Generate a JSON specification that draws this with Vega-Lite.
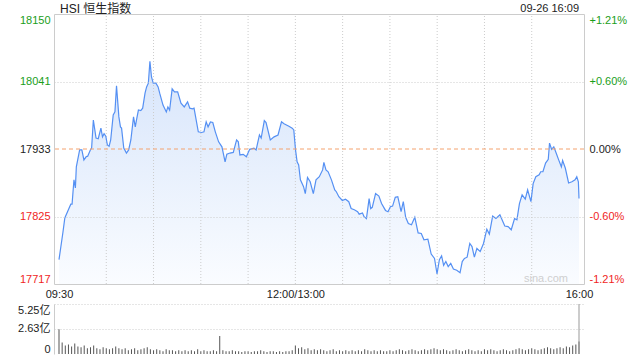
{
  "$schema": "https://vega.github.io/schema/vega-lite/v6.json",
  "width": 530,
  "height": 340,
  "autosize": {"type": "none"},
  "padding": {"left": 54, "top": 14, "right": 56, "bottom": 6},
  "background": "white",
  "config": {
    "font": "Liberation Sans, Noto Sans CJK SC",
    "view": {"stroke": null}
  },
  "datasets": {
    "price": [
      {"t":0,"v":17756},{"t":2.5,"v":17800},{"t":3.7,"v":17823},{"t":5.4,"v":17833},{"t":7.5,"v":17845},{"t":8.3,"v":17845},{"t":8.9,"v":17865},{"t":9.5,"v":17884},{"t":10.4,"v":17871},{"t":11.0,"v":17905},{"t":13.1,"v":17932},{"t":14.5,"v":17932},{"t":15.8,"v":17916},{"t":17.2,"v":17921},{"t":18.2,"v":17922},{"t":19.9,"v":17932},{"t":20.7,"v":17935},{"t":21.8,"v":17980},{"t":23.5,"v":17951},{"t":24.9,"v":17950},{"t":26.6,"v":17967},{"t":27.6,"v":17953},{"t":28.6,"v":17958},{"t":29.7,"v":17954},{"t":30.7,"v":17940},{"t":31.8,"v":17938},{"t":32.8,"v":17948},{"t":34.4,"v":17988},{"t":35.5,"v":17993},{"t":36.5,"v":18035},{"t":38.0,"v":17985},{"t":39.0,"v":17969},{"t":39.7,"v":17967},{"t":41.1,"v":17935},{"t":42.8,"v":17927},{"t":44.2,"v":17932},{"t":45.6,"v":17948},{"t":47.3,"v":17985},{"t":48.4,"v":17969},{"t":49.4,"v":17983},{"t":50.4,"v":17996},{"t":51.9,"v":17995},{"t":53.1,"v":17999},{"t":54.6,"v":18023},{"t":55.6,"v":18033},{"t":56.7,"v":18039},{"t":57.7,"v":18074},{"t":58.7,"v":18049},{"t":59.8,"v":18039},{"t":61.5,"v":18039},{"t":62.9,"v":18033},{"t":63.9,"v":18023},{"t":66.0,"v":18004},{"t":68.1,"v":17993},{"t":69.1,"v":18001},{"t":70.2,"v":17996},{"t":71.8,"v":18030},{"t":73.3,"v":18025},{"t":75.3,"v":18025},{"t":77.4,"v":18007},{"t":79.5,"v":18001},{"t":81.6,"v":18009},{"t":83.0,"v":17999},{"t":84.7,"v":17998},{"t":85.7,"v":17999},{"t":86.7,"v":17985},{"t":88.4,"v":17961},{"t":90.5,"v":17960},{"t":92.0,"v":17961},{"t":93.4,"v":17977},{"t":94.6,"v":17969},{"t":96.1,"v":17977},{"t":97.6,"v":17976},{"t":99.2,"v":17961},{"t":101.3,"v":17945},{"t":103.4,"v":17937},{"t":105.4,"v":17913},{"t":106.5,"v":17925},{"t":108.5,"v":17927},{"t":110.6,"v":17928},{"t":112.7,"v":17948},{"t":113.8,"v":17945},{"t":114.8,"v":17924},{"t":116.9,"v":17925},{"t":118.9,"v":17921},{"t":121.0,"v":17933},{"t":123.7,"v":17935},{"t":125.1,"v":17932},{"t":127.2,"v":17956},{"t":128.3,"v":17951},{"t":130.3,"v":17979},{"t":131.4,"v":17976},{"t":134.1,"v":17948},{"t":136.5,"v":17953},{"t":139.0,"v":17956},{"t":141.2,"v":17977},{"t":142.8,"v":17974},{"t":145.9,"v":17970},{"t":148.0,"v":17967},{"t":149.0,"v":17964},{"t":150.1,"v":17932},{"t":151.1,"v":17913},{"t":152.1,"v":17908},{"t":153.2,"v":17884},{"t":155.2,"v":17873},{"t":156.3,"v":17862},{"t":157.7,"v":17888},{"t":159.4,"v":17881},{"t":161.4,"v":17862},{"t":163.1,"v":17884},{"t":165.2,"v":17889},{"t":167.3,"v":17900},{"t":168.1,"v":17912},{"t":169.4,"v":17900},{"t":170.8,"v":17897},{"t":172.9,"v":17884},{"t":175.0,"v":17868},{"t":176.0,"v":17865},{"t":177.6,"v":17857},{"t":179.8,"v":17851},{"t":181.8,"v":17853},{"t":183.9,"v":17849},{"t":185.4,"v":17838},{"t":187.4,"v":17836},{"t":189.5,"v":17833},{"t":190.5,"v":17829},{"t":192.6,"v":17831},{"t":193.6,"v":17825},{"t":195.1,"v":17822},{"t":196.8,"v":17854},{"t":197.8,"v":17838},{"t":198.8,"v":17840},{"t":200.9,"v":17862},{"t":203.0,"v":17858},{"t":204.7,"v":17846},{"t":207.2,"v":17835},{"t":208.8,"v":17833},{"t":210.3,"v":17841},{"t":211.7,"v":17842},{"t":213.4,"v":17856},{"t":215.0,"v":17857},{"t":217.1,"v":17833},{"t":218.5,"v":17849},{"t":220.0,"v":17824},{"t":221.7,"v":17814},{"t":223.7,"v":17812},{"t":225.8,"v":17824},{"t":227.9,"v":17799},{"t":229.9,"v":17798},{"t":231.6,"v":17788},{"t":234.1,"v":17789},{"t":236.2,"v":17765},{"t":238.3,"v":17758},{"t":239.9,"v":17733},{"t":241.4,"v":17756},{"t":242.8,"v":17762},{"t":244.1,"v":17747},{"t":245.5,"v":17753},{"t":247.0,"v":17745},{"t":248.6,"v":17750},{"t":250.3,"v":17741},{"t":252.4,"v":17739},{"t":254.5,"v":17735},{"t":255.9,"v":17753},{"t":257.3,"v":17758},{"t":259.0,"v":17760},{"t":260.7,"v":17782},{"t":262.1,"v":17777},{"t":263.6,"v":17760},{"t":265.2,"v":17774},{"t":267.3,"v":17769},{"t":269.4,"v":17782},{"t":271.5,"v":17805},{"t":273.1,"v":17797},{"t":275.2,"v":17826},{"t":277.3,"v":17822},{"t":279.8,"v":17828},{"t":282.9,"v":17810},{"t":285.0,"v":17809},{"t":287.0,"v":17804},{"t":289.1,"v":17822},{"t":290.6,"v":17820},{"t":292.2,"v":17846},{"t":293.9,"v":17860},{"t":295.9,"v":17853},{"t":297.4,"v":17868},{"t":299.5,"v":17849},{"t":300.9,"v":17878},{"t":302.6,"v":17889},{"t":304.7,"v":17892},{"t":305.7,"v":17897},{"t":307.1,"v":17897},{"t":308.8,"v":17911},{"t":310.5,"v":17917},{"t":311.3,"v":17943},{"t":312.6,"v":17933},{"t":314.0,"v":17937},{"t":315.5,"v":17927},{"t":317.1,"v":17916},{"t":318.8,"v":17905},{"t":319.6,"v":17915},{"t":321.3,"v":17903},{"t":323.4,"v":17879},{"t":325.5,"v":17881},{"t":327.5,"v":17884},{"t":328.6,"v":17889},{"t":329.6,"v":17881},{"t":330,"v":17854}
    ],
    "volume": [
      {"t":0,"vol":2.6},{"t":2,"vol":1.2},{"t":4,"vol":0.9},{"t":6,"vol":1.0},{"t":8,"vol":0.8},{"t":10,"vol":1.1},{"t":12,"vol":0.8},{"t":14,"vol":0.7},{"t":16,"vol":0.9},{"t":18,"vol":0.6},{"t":20,"vol":0.7},{"t":22,"vol":0.9},{"t":24,"vol":0.6},{"t":26,"vol":0.5},{"t":28,"vol":0.7},{"t":30,"vol":0.6},{"t":32,"vol":0.5},{"t":34,"vol":0.6},{"t":36,"vol":0.8},{"t":38,"vol":0.6},{"t":40,"vol":0.5},{"t":42,"vol":0.6},{"t":44,"vol":0.4},{"t":46,"vol":0.5},{"t":48,"vol":0.6},{"t":50,"vol":0.4},{"t":52,"vol":0.5},{"t":54,"vol":0.6},{"t":56,"vol":0.7},{"t":58,"vol":0.5},{"t":60,"vol":0.4},{"t":62,"vol":0.5},{"t":64,"vol":0.4},{"t":66,"vol":0.3},{"t":68,"vol":0.5},{"t":70,"vol":0.4},{"t":72,"vol":0.4},{"t":74,"vol":0.3},{"t":76,"vol":0.4},{"t":78,"vol":0.3},{"t":80,"vol":0.4},{"t":82,"vol":0.3},{"t":84,"vol":0.4},{"t":86,"vol":0.3},{"t":88,"vol":0.5},{"t":90,"vol":0.3},{"t":92,"vol":0.4},{"t":94,"vol":0.3},{"t":96,"vol":0.3},{"t":98,"vol":0.4},{"t":100,"vol":0.3},{"t":102,"vol":1.9},{"t":104,"vol":0.4},{"t":106,"vol":0.3},{"t":108,"vol":0.3},{"t":110,"vol":0.4},{"t":112,"vol":0.3},{"t":114,"vol":0.3},{"t":116,"vol":0.2},{"t":118,"vol":0.3},{"t":120,"vol":0.3},{"t":122,"vol":0.2},{"t":124,"vol":0.3},{"t":126,"vol":0.3},{"t":128,"vol":0.4},{"t":130,"vol":0.3},{"t":132,"vol":0.2},{"t":134,"vol":0.3},{"t":136,"vol":0.3},{"t":138,"vol":0.2},{"t":140,"vol":0.3},{"t":142,"vol":0.2},{"t":144,"vol":0.3},{"t":146,"vol":0.3},{"t":148,"vol":0.4},{"t":150,"vol":0.9},{"t":152,"vol":0.6},{"t":154,"vol":0.7},{"t":156,"vol":0.5},{"t":158,"vol":0.6},{"t":160,"vol":0.4},{"t":162,"vol":0.5},{"t":164,"vol":0.4},{"t":166,"vol":0.5},{"t":168,"vol":0.4},{"t":170,"vol":0.3},{"t":172,"vol":0.4},{"t":174,"vol":0.5},{"t":176,"vol":0.3},{"t":178,"vol":0.4},{"t":180,"vol":0.3},{"t":182,"vol":0.4},{"t":184,"vol":0.3},{"t":186,"vol":0.4},{"t":188,"vol":0.3},{"t":190,"vol":0.4},{"t":192,"vol":0.3},{"t":194,"vol":0.5},{"t":196,"vol":0.4},{"t":198,"vol":0.3},{"t":200,"vol":0.4},{"t":202,"vol":0.3},{"t":204,"vol":0.4},{"t":206,"vol":0.3},{"t":208,"vol":0.3},{"t":210,"vol":0.4},{"t":212,"vol":0.3},{"t":214,"vol":0.4},{"t":216,"vol":0.5},{"t":218,"vol":0.4},{"t":220,"vol":0.3},{"t":222,"vol":0.4},{"t":224,"vol":0.5},{"t":226,"vol":0.4},{"t":228,"vol":0.3},{"t":230,"vol":0.4},{"t":232,"vol":0.5},{"t":234,"vol":0.4},{"t":236,"vol":0.5},{"t":238,"vol":0.6},{"t":240,"vol":0.5},{"t":242,"vol":0.4},{"t":244,"vol":0.5},{"t":246,"vol":0.4},{"t":248,"vol":0.3},{"t":250,"vol":0.4},{"t":252,"vol":0.5},{"t":254,"vol":0.4},{"t":256,"vol":0.3},{"t":258,"vol":0.4},{"t":260,"vol":0.5},{"t":262,"vol":0.4},{"t":264,"vol":0.3},{"t":266,"vol":0.4},{"t":268,"vol":0.3},{"t":270,"vol":0.5},{"t":272,"vol":0.4},{"t":274,"vol":0.5},{"t":276,"vol":0.4},{"t":278,"vol":0.3},{"t":280,"vol":0.4},{"t":282,"vol":0.5},{"t":284,"vol":0.4},{"t":286,"vol":0.3},{"t":288,"vol":0.4},{"t":290,"vol":0.5},{"t":292,"vol":0.6},{"t":294,"vol":0.5},{"t":296,"vol":0.4},{"t":298,"vol":0.5},{"t":300,"vol":0.6},{"t":302,"vol":0.5},{"t":304,"vol":0.4},{"t":306,"vol":0.5},{"t":308,"vol":0.6},{"t":310,"vol":0.7},{"t":312,"vol":0.6},{"t":314,"vol":0.5},{"t":316,"vol":0.6},{"t":318,"vol":0.7},{"t":320,"vol":0.6},{"t":322,"vol":0.8},{"t":324,"vol":0.7},{"t":326,"vol":0.9},{"t":328,"vol":1.0},{"t":330,"vol":1.3}
    ],
    "vgrid": [{"t":30},{"t":60},{"t":90},{"t":120},{"t":150},{"t":180},{"t":210},{"t":240},{"t":270},{"t":300}],
    "heading": [{"t":0,"label":"HSI 恒生指数"}],
    "stamp": [{"t":330,"label":"09-26 16:09"}],
    "watermark": [{"t":330,"label":"sina.com"}],
    "prevclose": [{"pct":0,"close":17933}],
    "vborder": [{"t":330}]
  },
  "layer": [
    {
      "data": {"name": "price"},
      "layer": [
        {
          "mark": {
            "type": "area",
            "color": {"gradient": "linear", "x1": 0, "y1": 0, "x2": 0, "y2": 1,
              "stops": [{"offset": 0, "color": "#d7e5fb"}, {"offset": 1, "color": "#fafcff"}]}
          },
          "encoding": {
            "x": {"field": "t", "type": "quantitative",
              "scale": {"domain": [0, 330], "nice": false, "zero": false},
              "axis": {"orient": "bottom", "offset": -70, "values": [0, 150, 330],
                "labelExpr": "datum.value == 0 ? '09:30' : datum.value == 150 ? '12:00/13:00' : '16:00'",
                "title": null, "domain": false, "ticks": false, "grid": false, "labelFlush": true,
                "labelPadding": 4, "labelFontSize": 11, "labelColor": "#222"}},
            "y": {"field": "v", "type": "quantitative",
              "scale": {"domain": [17717, 18150], "range": [270, 0], "nice": false, "zero": false},
              "axis": {"orient": "left", "values": [17717, 17825, 17933, 18041, 18150], "format": "d",
                "title": null, "ticks": false, "domain": true, "domainColor": "#cccccc",
                "labelPadding": 4, "labelFlush": true, "labelFontSize": 11,
                "grid": true, "gridColor": "#cccccc",
                "gridDash": {"condition": {"test": "datum.value == 18150 || datum.value == 17717", "value": []}, "value": [1, 2]},
                "gridOpacity": {"condition": {"test": "datum.value == 17933", "value": 0}, "value": 1},
                "labelColor": {"condition": [{"test": "datum.value > 17940", "value": "#1a9e1a"}, {"test": "datum.value < 17920", "value": "#f01e1e"}], "value": "#222"},
                "zindex": 1}},
            "y2": {"datum": 17717}
          }
        },
        {
          "data": {"name": "vgrid"},
          "mark": {"type": "rule", "color": "#cccccc", "strokeDash": [1, 2]},
          "encoding": {
            "x": {"field": "t", "type": "quantitative"},
            "y": {"datum": 17717},
            "y2": {"datum": 18150}
          }
        },
        {
          "mark": {"type": "line", "color": "#5590f3", "strokeWidth": 1.2},
          "encoding": {
            "x": {"field": "t", "type": "quantitative"},
            "y": {"field": "v", "type": "quantitative"}
          }
        },
        {
          "data": {"name": "heading"},
          "mark": {"type": "text", "align": "left", "baseline": "bottom", "dx": 1, "dy": 2, "fontSize": 12, "color": "#222"},
          "encoding": {
            "x": {"field": "t", "type": "quantitative"},
            "y": {"datum": 18150},
            "text": {"field": "label"}
          }
        },
        {
          "data": {"name": "stamp"},
          "mark": {"type": "text", "align": "right", "baseline": "bottom", "dy": 0, "fontSize": 11, "color": "#222"},
          "encoding": {
            "x": {"field": "t", "type": "quantitative"},
            "y": {"datum": 18150},
            "text": {"field": "label"}
          }
        },
        {
          "data": {"name": "watermark"},
          "mark": {"type": "text", "align": "right", "baseline": "bottom", "dx": -11, "dy": 0, "fontSize": 11, "color": "#cfcfcf"},
          "encoding": {
            "x": {"field": "t", "type": "quantitative"},
            "y": {"datum": 17717},
            "text": {"field": "label"}
          }
        }
      ]
    },
    {
      "data": {"name": "prevclose"},
      "mark": {"type": "rule", "color": "#f4a26e", "strokeDash": [4, 3]},
      "encoding": {
        "y": {"field": "pct", "type": "quantitative",
          "scale": {"domain": [-1.21, 1.21], "range": [270, 0], "nice": false, "zero": false},
          "axis": {"orient": "right", "values": [-1.21, -0.605, 0, 0.605, 1.21],
            "labelExpr": "(datum.value > 0 ? '+' : datum.value < 0 ? '-' : '') + format(abs(datum.value), '.2f') + '%'",
            "title": null, "ticks": false, "domain": true, "domainColor": "#cccccc", "grid": false,
            "labelPadding": 5, "labelFlush": true, "labelFontSize": 11,
            "labelColor": {"condition": [{"test": "datum.value > 0.001", "value": "#1a9e1a"}, {"test": "datum.value < -0.001", "value": "#f01e1e"}], "value": "#222"}}}
      }
    },
    {
      "data": {"name": "volume"},
      "layer": [
        {
          "mark": {"type": "bar", "color": "#555555", "size": 1},
          "encoding": {
            "x": {"field": "t", "type": "quantitative"},
            "y": {"field": "vol", "type": "quantitative",
              "scale": {"domain": [0, 5.25], "range": [340, 290], "nice": false},
              "axis": {"orient": "left", "values": [0, 2.63, 5.25],
                "labelExpr": "datum.value == 0 ? '0' : format(datum.value, '.2f') + '亿'",
                "title": null, "ticks": false, "domain": true, "domainColor": "#cccccc",
                "labelPadding": 4, "labelFlush": true, "labelFontSize": 11, "labelColor": "#222",
                "grid": true, "gridColor": "#cccccc", "gridDash": [1, 2],
                "gridOpacity": {"condition": {"test": "datum.value == 0", "value": 0}, "value": 1}}},
            "y2": {"datum": 0}
          }
        },
        {
          "data": {"name": "vborder"},
          "mark": {"type": "rule", "color": "#999999"},
          "encoding": {
            "x": {"field": "t", "type": "quantitative"},
            "y": {"datum": 0},
            "y2": {"datum": 5.25}
          }
        }
      ]
    }
  ],
  "resolve": {"scale": {"y": "independent"}, "axis": {"y": "independent"}}
}
